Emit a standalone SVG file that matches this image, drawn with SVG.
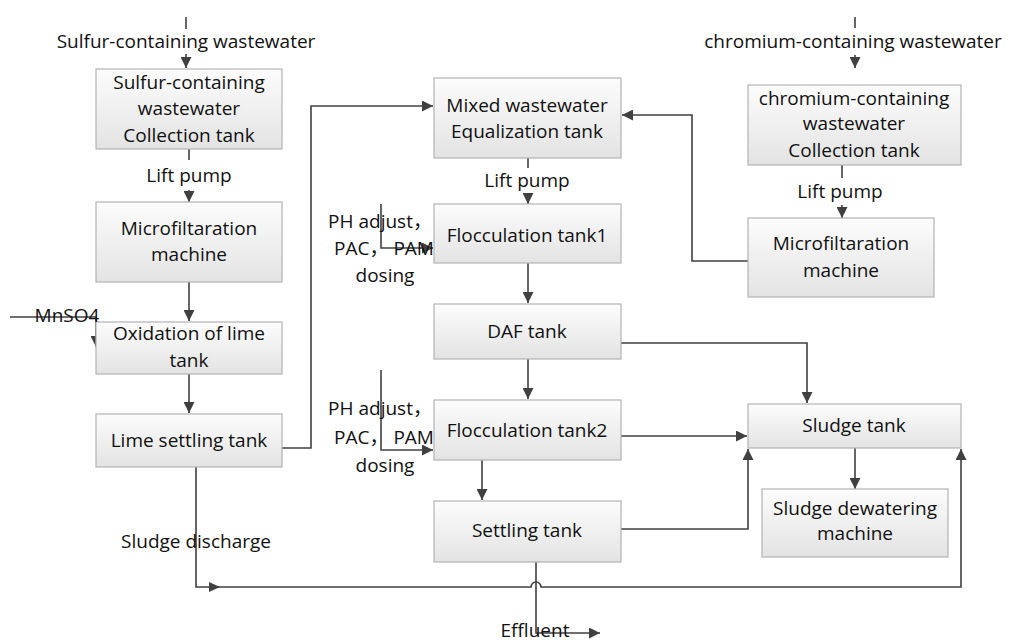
<svg xmlns="http://www.w3.org/2000/svg" width="1010" height="641" viewBox="0 0 1010 641">
<defs>
<linearGradient id="g" x1="0" y1="0" x2="0" y2="1">
<stop offset="0" stop-color="#fcfcfc"/>
<stop offset="1" stop-color="#e3e3e3"/>
</linearGradient>
<marker id="ah" viewBox="0 0 10 10" refX="10" refY="5" markerWidth="11" markerHeight="11" markerUnits="userSpaceOnUse" orient="auto">
<path d="M0,0 L10,5 L0,10 z" fill="#404040"/>
</marker>
<style>
.box{fill:url(#g);stroke:#b3b3b3;stroke-width:1.2}
.t{font-family:"Open Sans","Liberation Sans","Noto Sans CJK SC",sans-serif;font-size:19px;fill:#111111;text-anchor:middle}
.c{fill:none;stroke:#404040;stroke-width:1.6}
.a{marker-end:url(#ah)}
</style>
</defs>
<rect width="1010" height="641" fill="#ffffff"/>

<g id="connectors">
<path class="c" d="M186,17 V29"/>
<path class="c a" d="M186,54 V68"/>
<path class="c" d="M189,149 V160"/>
<path class="c a" d="M189,190 V202"/>
<path class="c a" d="M189,282 V321"/>
<path class="c a" d="M10,317 H96 V347"/>
<path class="c a" d="M189,374 V413"/>
<path class="c a" d="M282,448 H311 V106 H433"/>
<path class="c" d="M528,158 V168"/>
<path class="c a" d="M528,193 V204"/>
<path class="c a" d="M381,204 V248 H433"/>
<path class="c a" d="M528,263 V303"/>
<path class="c a" d="M528,359 V399"/>
<path class="c a" d="M381,370 V450 H433"/>
<path class="c a" d="M482,460 V500"/>
<path class="c a" d="M621,343 H807 V403"/>
<path class="c a" d="M621,436 H747"/>
<path class="c a" d="M621,529 H748 V449"/>
<path class="c a" d="M855,448 V489"/>
<path class="c" d="M855,17 V28"/>
<path class="c a" d="M855,55 V68"/>
<path class="c" d="M842,165 V178"/>
<path class="c a" d="M842,205 V218"/>
<path class="c a" d="M748,261 H692 V115 H622"/>
<path class="c a" d="M196,467 V587 H531 a5,5 0 0 1 10,0 H961 V449"/>
<path d="M209,582 L220,587 L209,592 z" fill="#404040"/>
<path class="c a" d="M536,562 V633 H600"/>
</g>

<g id="n-sulfur-collection">
<rect class="box" x="96" y="69" width="186" height="80"/>
<text class="t" x="189" y="89">Sulfur-containing</text>
<text class="t" x="189" y="115">wastewater</text>
<text class="t" x="189" y="142">Collection tank</text>
</g>
<g id="n-micro-left">
<rect class="box" x="96" y="202" width="186" height="80"/>
<text class="t" x="189" y="235">Microfiltaration</text>
<text class="t" x="189" y="261">machine</text>
</g>
<g id="n-oxidation">
<rect class="box" x="96" y="322" width="186" height="52"/>
<text class="t" x="189" y="340">Oxidation of lime</text>
<text class="t" x="189" y="367">tank</text>
</g>
<g id="n-lime-settling">
<rect class="box" x="96" y="414" width="186" height="53"/>
<text class="t" x="189" y="447">Lime settling tank</text>
</g>
<g id="n-equalization">
<rect class="box" x="434" y="78" width="187" height="80"/>
<text class="t" x="527" y="112">Mixed wastewater</text>
<text class="t" x="527" y="138">Equalization tank</text>
</g>
<g id="n-floc1">
<rect class="box" x="434" y="204" width="187" height="59"/>
<text class="t" x="527" y="242">Flocculation tank1</text>
</g>
<g id="n-daf">
<rect class="box" x="434" y="304" width="187" height="55"/>
<text class="t" x="527" y="338">DAF tank</text>
</g>
<g id="n-floc2">
<rect class="box" x="434" y="400" width="187" height="60"/>
<text class="t" x="527" y="437">Flocculation tank2</text>
</g>
<g id="n-settling">
<rect class="box" x="434" y="501" width="187" height="61"/>
<text class="t" x="527" y="537">Settling tank</text>
</g>
<g id="n-chromium-collection">
<rect class="box" x="748" y="85" width="213" height="80"/>
<text class="t" x="854" y="105">chromium-containing</text>
<text class="t" x="854" y="130">wastewater</text>
<text class="t" x="854" y="157">Collection tank</text>
</g>
<g id="n-micro-right">
<rect class="box" x="748" y="218" width="186" height="79"/>
<text class="t" x="841" y="250">Microfiltaration</text>
<text class="t" x="841" y="277">machine</text>
</g>
<g id="n-sludge-tank">
<rect class="box" x="748" y="404" width="213" height="44"/>
<text class="t" x="854" y="432">Sludge tank</text>
</g>
<g id="n-dewatering">
<rect class="box" x="762" y="489" width="186" height="68"/>
<text class="t" x="855" y="515">Sludge dewatering</text>
<text class="t" x="855" y="540">machine</text>
</g>

<g id="labels">
<text class="t" x="186" y="48">Sulfur-containing wastewater</text>
<text class="t" x="189" y="182">Lift pump</text>
<text class="t" x="67" y="322">MnSO4</text>
<text class="t" x="527" y="187">Lift pump</text>
<text class="t" x="380" y="228">PH adjust，</text>
<text class="t" x="384" y="255">PAC，  PAM</text>
<text class="t" x="385" y="282">dosing</text>
<text class="t" x="380" y="415">PH adjust，</text>
<text class="t" x="384" y="444">PAC，  PAM</text>
<text class="t" x="385" y="472">dosing</text>
<text class="t" x="196" y="548">Sludge discharge</text>
<text class="t" x="535" y="637">Effluent</text>
<text class="t" x="853" y="48">chromium-containing wastewater</text>
<text class="t" x="840" y="198">Lift pump</text>
</g>
</svg>
